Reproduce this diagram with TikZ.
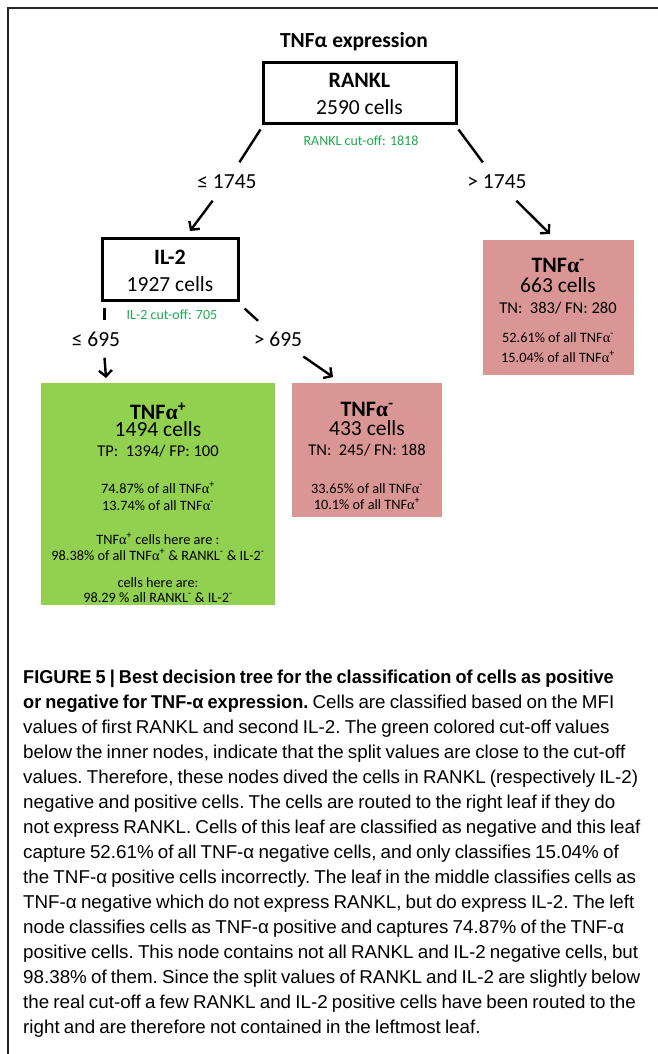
\documentclass[tikz,border=0pt]{standalone}
\usepackage{fontspec}
\setmainfont{Carlito}
\newfontfamily\capfont[FakeStretch=1.01, WordSpace=0.8, BoldFeatures={FakeStretch=0.975}]{Liberation Sans}
\newfontfamily\symfont{Liberation Serif}
\usetikzlibrary{arrows.meta}

\definecolor{leafgreen}{RGB}{146,208,80}
\definecolor{leafpink}{RGB}{217,150,148}
\definecolor{cutgreen}{RGB}{30,170,80}

\newcommand{\fs}[1]{\fontsize{#1pt}{#1pt}\selectfont}
\newcommand{\al}{{\symfont α}}
\newcommand{\pl}{\textsuperscript{+}}
\newcommand{\mi}{\textsuperscript{-}}

\tikzset{
  splitbox/.style={draw=black, line width=3pt, minimum width=#1, inner sep=0pt},
  leafbox/.style={draw=none, inner sep=0pt},
  txline/.style={anchor=base, inner sep=0pt},
  conn/.style={draw=black, line width=2.4pt},
  arr/.style={-{Straight Barb[length=6pt,width=13pt,line width=2.4pt]}},
  lab/.style={font=\fs{21.5}, fill=white, inner xsep=1pt, inner ysep=12pt,
              text height=14pt, text depth=0pt},
  cut/.style={anchor=base, inner sep=0pt, font=\fs{14}, text=cutgreen},
  txbig/.style={txline, font=\fs{22}\bfseries},
  txcells/.style={txline, font=\fs{21.5}},
  txcount/.style={txline, font=\fs{16.5}},
  txsmall/.style={txline, font=\fs{14.3}},
}

\begin{document}
\begin{tikzpicture}[x=1pt,y=-1pt]
\useasboundingbox (0,0) rectangle (658,1054);

% frame of the figure panel
\draw[line width=1.5pt, black!85] (658,8) -- (8,8) -- (8,1054);

% title
\node[txbig, font=\fs{21.5}\bfseries] (title) at (354,48) {TNFα expression};

% root split node
\node[splitbox=193pt, minimum height=61pt] (rk) at (359.5,93.5) {};
\node[txbig] (rkname) at (359.5,88) {RANKL};
\node[txcells] (rkcells) at (359.5,115) {2590 cells};
\node[cut] (rkcut) at (361,146) {RANKL cut-off: 1818};

% inner split node
\node[splitbox=136pt, minimum height=62pt] (il) at (170,269) {};
\node[txbig] (ilname) at (170,264) {IL-2};
\node[txcells] (ilcells) at (170,291) {1927 cells};
\node[cut] (ilcut) at (172,319) {IL-2 cut-off: 705};

% leaves
\node[leafbox, fill=leafpink, minimum width=151pt, minimum height=135pt] (rleaf) at (558.5,307.5) {};
\node[leafbox, fill=leafpink, minimum width=150pt, minimum height=134pt] (mleaf) at (367,450) {};
\node[leafbox, fill=leafgreen, minimum width=234pt, minimum height=222pt] (lleaf) at (158,494) {};

% right leaf text
\node[txbig] (r1) at (558,272) {TNF\al\mi};
\node[txcells] (r2) at (558,292) {663 cells};
\node[txcount] (r3) at (558,313) {TN:\ \ 383/ FN: 280};
\node[txsmall] (r4) at (558,342) {52.61\% of all TNF\al\mi};
\node[txsmall] (r5) at (558,362) {15.04\% of all TNF\al\pl};

% middle leaf text
\node[txbig] (m1) at (367,416) {TNF\al\mi};
\node[txcells] (m2) at (367,435) {433 cells};
\node[txcount] (m3) at (367,455) {TN:\ \ 245/ FN: 188};
\node[txsmall] (m4) at (367,493) {33.65\% of all TNF\al\mi};
\node[txsmall] (m5) at (367,509) {10.1\% of all TNF\al\pl};

% left leaf text
\node[txbig] (g1) at (158,419) {TNF\al\pl};
\node[txcells] (g2) at (158,436) {1494 cells};
\node[txcount] (g3) at (158,456) {TP:\ \ 1394/ FP: 100};
\node[txsmall] (g4) at (158,493) {74.87\% of all TNF\al\pl};
\node[txsmall] (g5) at (158,510) {13.74\% of all TNF\al\mi};
\node[txsmall] (g6) at (158,544) {TNF\al\pl{} cells here are :};
\node[txsmall] (g7) at (158,560) {98.38\% of all TNF\al\pl{} \& RANKL\mi{} \& IL-2\mi};
\node[txsmall] (g8) at (158,587) {cells here are:};
\node[txsmall] (g9) at (158,602) {98.29 \% all RANKL\mi{} \& IL-2\mi};

% split conditions
\node[lab] (l1) at (227,181.5) {≤ 1745};
\node[lab] (l2) at (497,181.5) {> 1745};
\node[lab, inner ysep=11.5pt] (l3) at (96,339) {≤ 695};
\node[lab, inner ysep=11pt] (l4) at (278,339) {> 695};

% arrow tips
\coordinate (t1) at (190,231);
\coordinate (t2) at (550,234);
\coordinate (t3) at (106,378);
\coordinate (t4) at (333,377);
\coordinate (s3) at ([shift={(4,6)}]il.south west);

% connectors
\draw[conn] ([shift={(-1,4)}]rk.south west) -- (l1);
\draw[conn,arr] (l1) -- (t1);
\draw[conn] ([shift={(1,4)}]rk.south east) -- (l2);
\draw[conn,arr] (l2) -- (t2);
\draw[conn] (s3) -- (s3 |- l3.north);
\draw[conn,arr] (s3 |- l3.south) -- (t3);
\draw[conn] ([shift={(5,7)}]il.south east) -- (l4);
\draw[conn,arr] (l4) -- (t4);

% caption (the base anchor sits on its last line)
\node[anchor=base west, inner sep=0pt, align=left,
      font=\capfont\fontsize{18.6pt}{25pt}\selectfont\frenchspacing] (cap) at (23,1033) {%
\textbf{FIGURE 5 | Best decision tree for the classification of cells as positive}\\
\textbf{or negative for TNF-α expression.} Cells are classified based on the MFI\\
values of first RANKL and second IL-2. The green colored cut-off values\\
below the inner nodes, indicate that the split values are close to the cut-off\\
values. Therefore, these nodes dived the cells in RANKL (respectively IL-2)\\
negative and positive cells. The cells are routed to the right leaf if they do\\
not express RANKL. Cells of this leaf are classified as negative and this leaf\\
capture 52.61\% of all TNF-α negative cells, and only classifies 15.04\% of\\
the TNF-α positive cells incorrectly. The leaf in the middle classifies cells as\\
TNF-α negative which do not express RANKL, but do express IL-2. The left\\
node classifies cells as TNF-α positive and captures 74.87\% of the TNF-α\\
positive cells. This node contains not all RANKL and IL-2 negative cells, but\\
98.38\% of them. Since the split values of RANKL and IL-2 are slightly below\\
the real cut-off a few RANKL and IL-2 positive cells have been routed to the\\
right and are therefore not contained in the leftmost leaf.};

\end{tikzpicture}
\end{document}
